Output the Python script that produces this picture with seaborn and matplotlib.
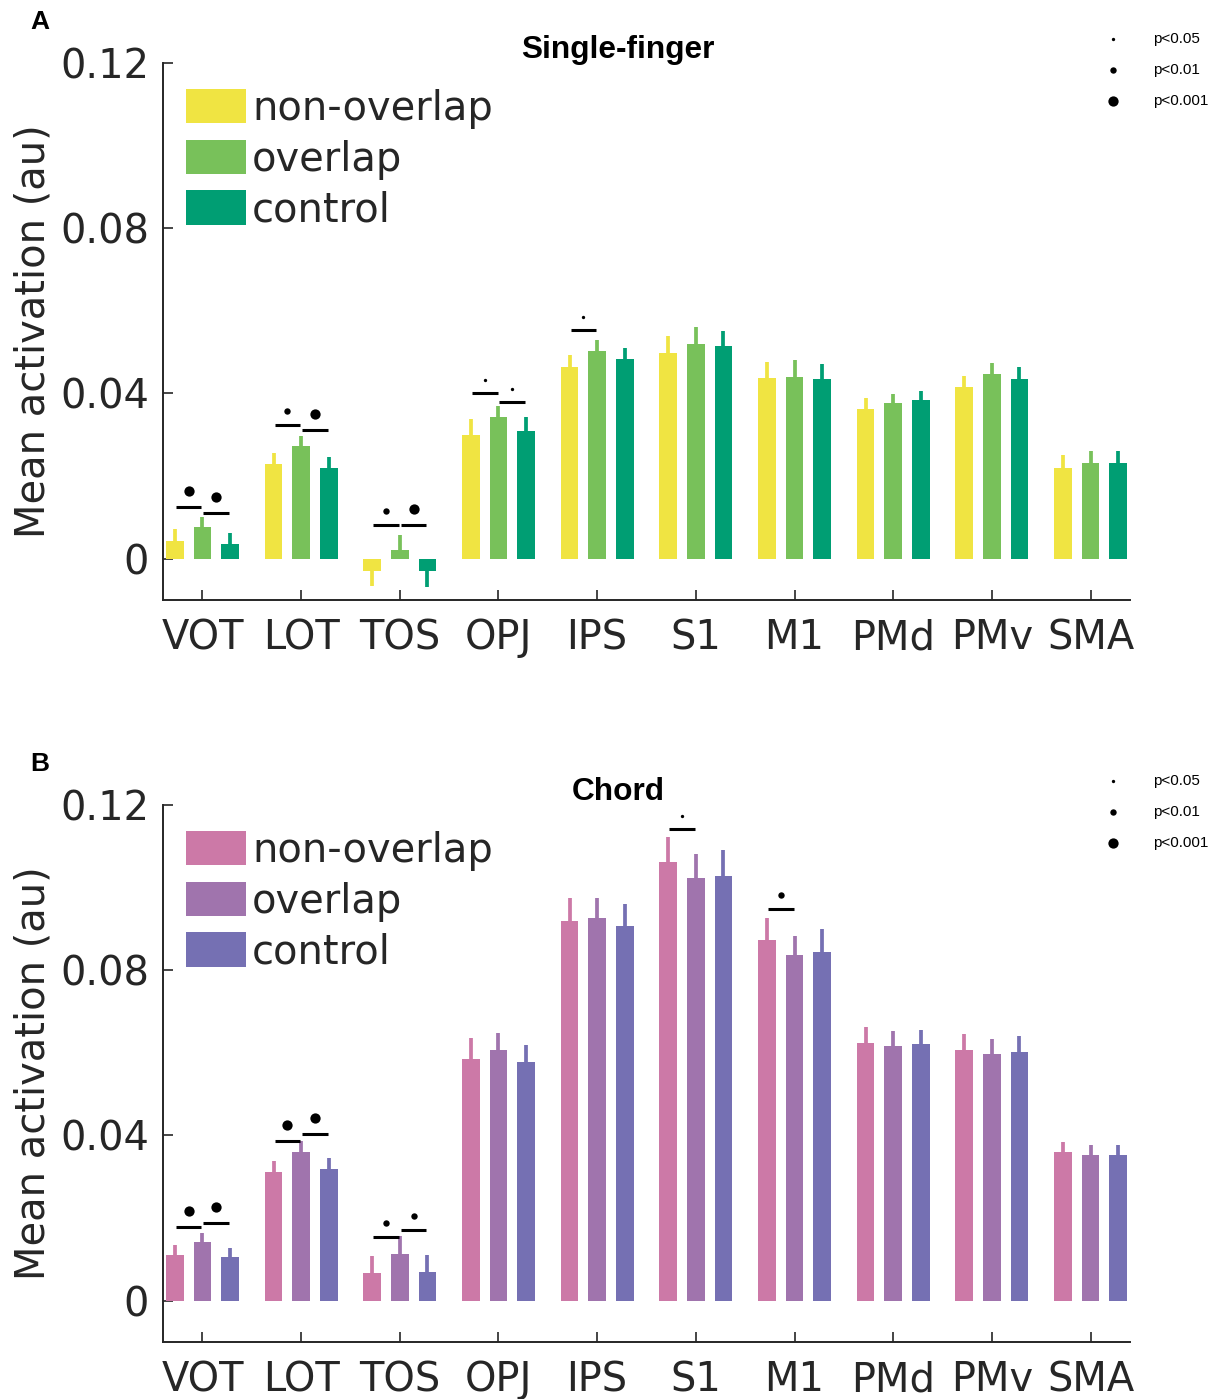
import numpy as np
import pandas as pd
import matplotlib
matplotlib.use("Agg")
import matplotlib.pyplot as plt
import seaborn as sns
from matplotlib.patches import Patch

regions = ["VOT", "LOT", "TOS", "OPJ", "IPS", "S1", "M1", "PMd", "PMv", "SMA"]
conditions = ["non-overlap", "overlap", "control"]

# Panel A - single finger: means and (one-sided) error
single_nonoverlap = [0.0044, 0.0229, -0.0029, 0.0299, 0.0465, 0.0499, 0.0437, 0.0362, 0.0415, 0.0220]
single_overlap = [0.0076, 0.0274, 0.0021, 0.0342, 0.0502, 0.0520, 0.0440, 0.0376, 0.0446, 0.0232]
single_control = [0.0036, 0.0219, -0.0031, 0.0308, 0.0483, 0.0514, 0.0436, 0.0384, 0.0436, 0.0232]
single_nonoverlap_err = [0.0028, 0.0028, 0.0036, 0.0039, 0.0028, 0.0041, 0.0038, 0.0026, 0.0028, 0.0031]
single_overlap_err = [0.0024, 0.0024, 0.0036, 0.0028, 0.0028, 0.0042, 0.0041, 0.0023, 0.0027, 0.0028]
single_control_err = [0.0026, 0.0026, 0.0037, 0.0036, 0.0027, 0.0038, 0.0035, 0.0023, 0.0029, 0.0029]

# Panel B - chord
chord_nonoverlap = [0.0111, 0.0312, 0.0067, 0.0586, 0.0919, 0.1062, 0.0874, 0.0623, 0.0608, 0.0359]
chord_overlap = [0.0143, 0.0361, 0.0114, 0.0606, 0.0926, 0.1024, 0.0836, 0.0617, 0.0597, 0.0353]
chord_control = [0.0106, 0.0319, 0.0069, 0.0578, 0.0907, 0.1029, 0.0845, 0.0621, 0.0602, 0.0353]
chord_nonoverlap_err = [0.0024, 0.0027, 0.0042, 0.0049, 0.0056, 0.0061, 0.0052, 0.0039, 0.0038, 0.0024]
chord_overlap_err = [0.0021, 0.0026, 0.0042, 0.0043, 0.0049, 0.0057, 0.0048, 0.0035, 0.0037, 0.0025]
chord_control_err = [0.0021, 0.0026, 0.0041, 0.0042, 0.0053, 0.0063, 0.0054, 0.0035, 0.0038, 0.0024]

# significance: region index, pair (0 = non-overlap vs overlap, 1 = overlap vs control), level, bar height
single_sig_region = [0, 0, 1, 1, 2, 2, 3, 3, 4]
single_sig_pair = [0, 1, 0, 1, 0, 1, 0, 1, 0]
single_sig_level = [3, 3, 2, 3, 2, 3, 1, 1, 1]
single_sig_y = [0.0126, 0.0110, 0.0324, 0.0312, 0.0082, 0.0082, 0.0402, 0.0380, 0.0554]

chord_sig_region = [0, 0, 1, 1, 2, 2, 5, 6]
chord_sig_pair = [0, 1, 0, 1, 0, 1, 0, 0]
chord_sig_level = [3, 3, 3, 3, 2, 2, 1, 2]
chord_sig_y = [0.0179, 0.0189, 0.0386, 0.0403, 0.0155, 0.0171, 0.1143, 0.0949]

p_labels = ["p<0.05", "p<0.01", "p<0.001"]

single_colors = ["#F0E442", "#78C15A", "#009E73"]
chord_colors = ["#CC79A7", "#A074AD", "#7570B3"]

sns.set_style("ticks")
plt.rcParams["font.family"] = ["DejaVu Sans"]

W, H = 1217, 1399
fig = plt.figure(figsize=(W / 100, H / 100), dpi=100)

dot_size = {1: 2.4, 2: 4.6, 3: 7.4}
dot_off = {1: 0.0030, 2: 0.0033, 3: 0.0039}
slot = 0.28
FS = 28.8


def draw_panel(top_px, means, errs, colors, sig_region, sig_pair, sig_level, sig_y, title, letter):
    ax = fig.add_axes([163 / W, 1 - (top_px + 537) / H, 967 / W, 537 / H])
    rows = []
    for c, vals in zip(conditions, means):
        for r, v in zip(regions, vals):
            rows.append({"region": r, "condition": c, "value": v})
    df = pd.DataFrame(rows)
    sns.barplot(data=df, x="region", y="value", hue="condition", order=regions,
                hue_order=conditions, palette=dict(zip(conditions, colors)),
                width=0.84, gap=0.36, errorbar=None, legend=False,
                edgecolor="none", saturation=1, ax=ax)

    # one-sided error bars (away from zero)
    for j, (vals, ev) in enumerate(zip(means, errs)):
        x = np.arange(len(regions)) + (j - 1) * slot
        v = np.array(vals)
        e = np.array(ev) * np.sign(v)
        ax.vlines(x, v, v + e, color=colors[j], lw=2.7, zorder=1)

    # significance lines + dots
    for r, p, lvl, y in zip(sig_region, sig_pair, sig_level, sig_y):
        xm = r + (p - 0.5) * slot
        ax.plot([xm - 0.13, xm + 0.13], [y, y], color="black", lw=2.2, solid_capstyle="butt")
        ax.plot(xm, y + dot_off[lvl], "o", color="black", ms=dot_size[lvl], mec="none")

    ax.set_xlim(-0.4, 9.4)
    ax.set_ylim(-0.01, 0.12)
    ax.set_yticks([0, 0.04, 0.08, 0.12])
    ax.set_yticklabels(["0", "0.04", "0.08", "0.12"])
    ax.set_xlabel("")
    ax.set_ylabel("Mean activation (au)", fontsize=FS, color="#262626")
    ax.yaxis.set_label_coords(-0.113, 0.5)
    sns.despine(ax=ax)
    for s in ["left", "bottom"]:
        ax.spines[s].set_color("#262626")
        ax.spines[s].set_linewidth(1.4)
    ax.tick_params(axis="both", direction="in", length=7, width=1.2, colors="#262626",
                   labelsize=FS)
    ax.tick_params(axis="y", pad=10)
    ax.tick_params(axis="x", pad=13)

    handles = [Patch(facecolor=c, edgecolor="none") for c in colors]
    ax.legend(handles, conditions, loc="upper left", bbox_to_anchor=(0.0238, 0.952),
              frameon=False, fontsize=FS, handlelength=1.5, handleheight=0.95,
              handletextpad=0.15, labelspacing=0.27, borderpad=0, borderaxespad=0)

    fig.text(618 / W, 1 - (top_px - 13) / H, title, ha="center", va="center",
             fontsize=22.8, fontweight="bold", family="Liberation Sans", color="black")
    fig.text(40 / W, 1 - (top_px - 41) / H, letter, ha="center", va="center",
             fontsize=19, fontweight="bold", family="Liberation Sans", color="black")

    # p-value key
    for k, lab in enumerate(p_labels):
        yk = 1 - (top_px - 24 + 31 * k) / H
        fig.lines.append(plt.Line2D([1113 / W], [yk], marker="o", color="black",
                                    ms=dot_size[k + 1], mec="none", transform=fig.transFigure))
        fig.text(1153 / W, yk, lab, ha="left", va="center", fontsize=11,
                 family="Liberation Sans", color="black")
    return ax


draw_panel(63, [single_nonoverlap, single_overlap, single_control],
           [single_nonoverlap_err, single_overlap_err, single_control_err],
           single_colors, single_sig_region, single_sig_pair, single_sig_level, single_sig_y,
           "Single-finger", "A")
draw_panel(805, [chord_nonoverlap, chord_overlap, chord_control],
           [chord_nonoverlap_err, chord_overlap_err, chord_control_err],
           chord_colors, chord_sig_region, chord_sig_pair, chord_sig_level, chord_sig_y,
           "Chord", "B")

fig.savefig("out.png", dpi=100)
